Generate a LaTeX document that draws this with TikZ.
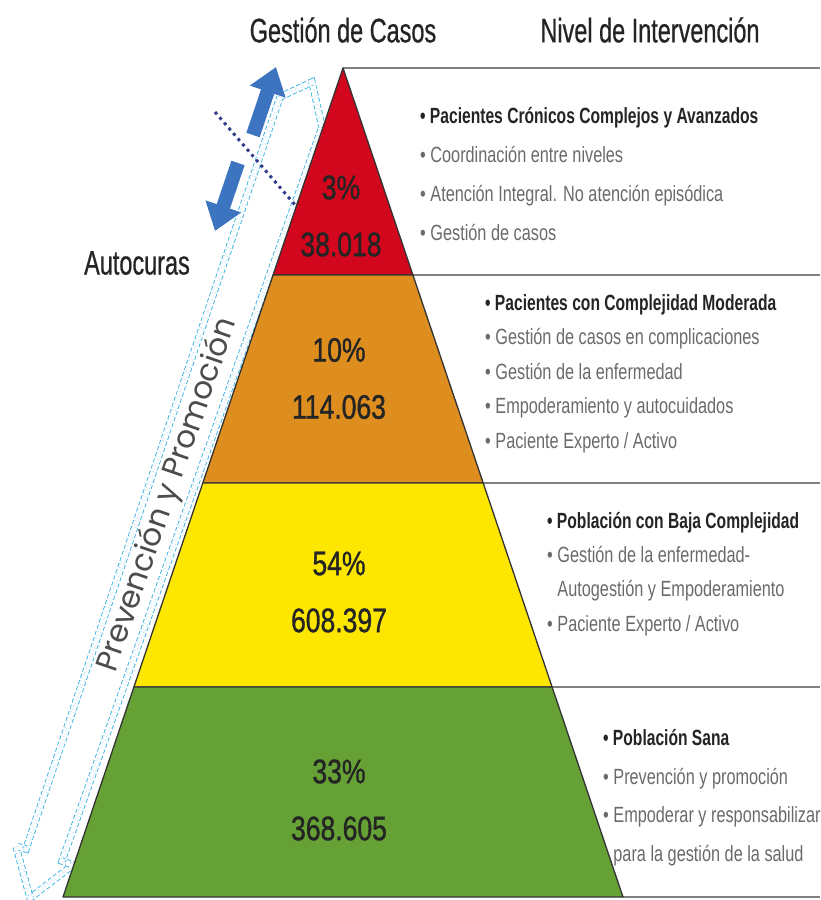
\documentclass[tikz,border=0pt]{standalone}
\usepackage{fontspec}
\setmainfont{Liberation Sans}[FakeStretch=0.74]
\newfontfamily\headfont{Liberation Sans}[FakeStretch=0.71]
\newfontfamily\titlefont{Liberation Sans}[FakeStretch=0.69, FakeBold=0.6]
\newfontfamily\numfont{Liberation Sans}[FakeStretch=0.78, FakeBold=1]
\newfontfamily\geofont{Poppins}
\usetikzlibrary{positioning, arrows.meta, calc}
\usepackage{xcolor}

\definecolor{capRed}{HTML}{D2061C}
\definecolor{capOrange}{HTML}{DE8E1F}
\definecolor{capYellow}{HTML}{FDE700}
\definecolor{capGreen}{HTML}{66A136}
\definecolor{arrowBlue}{HTML}{3D74BF}
\definecolor{dotNavy}{HTML}{353C8C}
\definecolor{lineCyan}{HTML}{3DB2E3}
\definecolor{textGray}{HTML}{6A6A6A}
\definecolor{textDark}{HTML}{242424}

\begin{document}
\begin{tikzpicture}[x=1pt, y=-1pt, >=Stealth,
        band/.style={draw=black!80, line width=1.3pt, line join=round},
        sepline/.style={draw=black!50, line width=2.4pt},
        pctlabel/.style={font=\numfont\fontsize{34}{57}\selectfont, text=textDark, align=center, inner sep=0pt},
        bulletlist/.style={text=textGray, align=left, anchor=north west, inner sep=0pt},
        title/.style={font=\titlefont\fontsize{34}{40}\selectfont, text=textDark, inner sep=0pt},
        bluearrow/.style={draw=arrowBlue, line width=14pt, -{Triangle[width=36pt, length=26pt]}},
        promoarrow/.style={draw=lineCyan, line width=0.9pt, dash pattern=on 4pt off 2.5pt, double=white, double distance=5.5pt, line join=miter}]
        \useasboundingbox (0,0) rectangle (820,900);

        % Pyramid corners
        \coordinate (apex) at (343,68);
        \coordinate (redL) at (273.1,275);
        \coordinate (redR) at (412.9,275);
        \coordinate (orL) at (202.8,483);
        \coordinate (orR) at (483.2,483);
        \coordinate (yeL) at (133.9,687);
        \coordinate (yeR) at (552.1,687);
        \coordinate (grL) at (63,897);
        \coordinate (grR) at (623,897);

        % Prevention arrow (drawn first, pyramid overlaps it)
        \coordinate (capL) at (280,97);
        \coordinate (capT) at (312,82);
        \coordinate (capR) at (322,127);
        \coordinate (shaftR) at (62,861);
        \coordinate (barbR) at (73,865);
        \coordinate (promoTip) at (30,898);
        \coordinate (barbL) at (16,846);
        \coordinate (shaftL) at (26,849);
        \draw[promoarrow] (capL) -- (capT) -- (capR) -- (shaftR) -- (barbR) -- (promoTip) -- (barbL) -- (shaftL) -- cycle;
        \node (promo) [rotate=71, font=\geofont\fontsize{31}{36}\selectfont, text=black!70, inner sep=0pt] at (168,495) {Prevención y Promoción};

        % Separator lines
        \draw[sepline] (apex) -- ++(477,0);
        \draw[sepline] (redR) -- ++(407.1,0);
        \draw[sepline] (orR) -- ++(336.8,0);
        \draw[sepline] (yeR) -- ++(267.9,0);
        \draw[sepline] (grR) -- ++(197,0);

        % Bands
        \draw[band, fill=capRed] (apex) -- (redR) -- (redL) -- cycle;
        \draw[band, fill=capOrange] (redL) -- (redR) -- (orR) -- (orL) -- cycle;
        \draw[band, fill=capYellow] (orL) -- (orR) -- (yeR) -- (yeL) -- cycle;
        \draw[band, fill=capGreen] (yeL) -- (yeR) -- (grR) -- (grL) -- cycle;

        % Band figures
        \node (pctRed) [pctlabel] at (341,216) {3\%\\38.018};
        \node (pctOrange) [pctlabel] at (339,378.5) {10\%\\114.063};
        \node (pctYellow) [pctlabel] at (339,592) {54\%\\608.397};
        \node (pctGreen) [pctlabel] at (339,800) {33\%\\368.605};

        % Column titles
        \node (colCasos) [title] at (343,30) {Gestión de Casos};
        \node (colNivel) [title] at (650,30) {Nivel de Intervención};
        \node (autocuras) [title] at (137,263) {Autocuras};

        % Case management arrows
        \coordinate (upTail) at (253,135);
        \coordinate (upTip) at (276,67);
        \coordinate (downTail) at (238,163);
        \coordinate (downTip) at (215,231);
        \draw[bluearrow] (upTail) -- (upTip);
        \draw[bluearrow] (downTail) -- (downTip);
        \coordinate (cutStart) at (215,112);
        \coordinate (cutEnd) at (296,206);
        \draw[dotNavy, line width=3pt, dash pattern=on 3pt off 4pt] (cutStart) -- (cutEnd);

        % Intervention levels
        \node (listRed) [bulletlist, font=\fontsize{22}{39}\selectfont] at (420,107) {%
            {\headfont\bfseries\color{textDark}\textbullet\ Pacientes Crónicos Complejos y Avanzados}\\
            \textbullet\ Coordinación entre niveles\\
            \textbullet\ Atención Integral. No atención episódica\\
            \textbullet\ Gestión de casos};
        \node (listOrange) [bulletlist, font=\fontsize{22}{34.5}\selectfont] at (485,294) {%
            {\headfont\bfseries\color{textDark}\textbullet\ Pacientes con Complejidad Moderada}\\
            \textbullet\ Gestión de casos en complicaciones\\
            \textbullet\ Gestión de la enfermedad\\
            \textbullet\ Empoderamiento y autocuidados\\
            \textbullet\ Paciente Experto / Activo};
        \node (listYellow) [bulletlist, font=\fontsize{22}{34.3}\selectfont] at (547,512) {%
            {\headfont\bfseries\color{textDark}\textbullet\ Población con Baja Complejidad}\\
            \textbullet\ Gestión de la enfermedad-\\
            \hphantom{\textbullet\ }Autogestión y Empoderamiento\\
            \textbullet\ Paciente Experto / Activo};
        \node (listGreen) [bulletlist, font=\fontsize{22}{38.7}\selectfont] at (603,729) {%
            {\headfont\bfseries\color{textDark}\textbullet\ Población Sana}\\
            \textbullet\ Prevención y promoción\\
            \textbullet\ Empoderar y responsabilizar\\
            \hphantom{\textbullet\ }para la gestión de la salud};
\end{tikzpicture}
\end{document}
